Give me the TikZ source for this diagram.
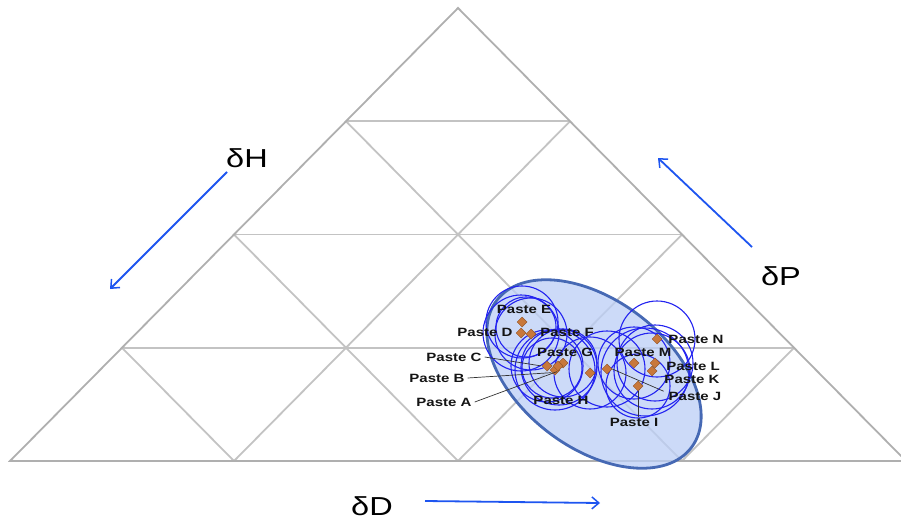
\documentclass[tikz,border=0pt]{standalone}
\usepackage{fontspec}
\setmainfont{Liberation Sans}
\newfontfamily\wfont[FakeStretch=1.25]{Liberation Sans}
\usetikzlibrary{arrows.meta,shapes.geometric}
\definecolor{gridgray}{RGB}{195,195,195}
\definecolor{ellfill}{RGB}{187,206,246}
\definecolor{elledge}{RGB}{70,105,180}
\definecolor{circblue}{RGB}{35,35,240}
\definecolor{diafill}{RGB}{200,120,60}
\definecolor{diaedge}{RGB}{150,85,40}
\definecolor{arrblue}{RGB}{30,85,240}
\definecolor{labtext}{RGB}{20,20,20}
\tikzset{
  gridline/.style={draw=gridgray, line width=1.8pt},
  outerline/.style={draw=gridgray!90!black, line width=1.8pt, line join=miter},
  ring/.style={draw=circblue, line width=1.1pt},
  dia/.style={diamond, draw=diaedge, fill=diafill, line width=0.5pt, minimum width=10pt, minimum height=10pt, inner sep=0pt},
  plabel/.style={font=\wfont\bfseries\fontsize{12}{12}\selectfont, text=labtext, inner sep=0pt},
  axlabel/.style={font=\wfont\fontsize{26}{26}\selectfont, text=black, inner sep=0pt},
  leader/.style={draw=black!80, line width=0.7pt, shorten >=1pt},
  axarrow/.style={draw=arrblue, line width=1.8pt, -{Straight Barb[length=7pt,width=12pt,line width=1.5pt]}}
}
\begin{document}
\begin{tikzpicture}[x=1pt,y=-1pt]
\useasboundingbox (0,0) rectangle (901,522);
\clip (0,0) rectangle (901,522);
% grid
\coordinate (A) at (458,8);
\coordinate (L) at (10,461);
\coordinate (R) at (906,461);
\draw[gridline] (346,121.25) -- (570,121.25);
\draw[gridline] (234,234.5) -- (682,234.5);
\draw[gridline] (122,347.75) -- (794,347.75);
\draw[gridline] (234,461) -- (570,121.25);
\draw[gridline] (458,461) -- (682,234.5);
\draw[gridline] (682,461) -- (794,347.75);
\draw[gridline] (234,461) -- (122,347.75);
\draw[gridline] (458,461) -- (234,234.5);
\draw[gridline] (682,461) -- (346,121.25);
\draw[outerline] (L) -- (A) -- (R) -- cycle;
% big ellipse
\fill[ellfill, fill opacity=0.75, rotate around={-37:(594,374)}] (594,374) ellipse [x radius=122pt, y radius=74pt];
\draw[elledge, line width=2.8pt, rotate around={-37:(594,374)}] (594,374) ellipse [x radius=122pt, y radius=74pt];
% circles
\foreach \cx/\cy/\r in {522/322/36, 521/333/38, 531/334/36, 526/327/30,
  547/366/36, 555/370/40, 563/363/34, 559/367/38, 552/368/30,
  590/373/36, 607/369/38,
  634/363/36, 655/363/38, 652/371/38, 638/386/32, 657/339/38, 645/372/44}
  \draw[ring] (\cx,\cy) circle [radius=\r pt];
% diamonds
\node[dia] (dE) at (522,322) {};
\node[dia] (dD) at (521,333) {};
\node[dia] (dF) at (531,334) {};
\node[dia] (dC) at (547,366) {};
\node[dia] (dB) at (555,370) {};
\node[dia] (dG) at (563,363) {};
\node[dia] (dA) at (558,366) {};
\node[dia] (dH) at (590,373) {};
\node[dia] (dQ) at (607,369) {};
\node[dia] (dM) at (634,363) {};
\node[dia] (dL) at (655,363) {};
\node[dia] (dK) at (652,371) {};
\node[dia] (dI) at (638,386) {};
\node[dia] (dN) at (657,339) {};
% labels
\node[plabel] (lE) at (524,309.5) {Paste E};
\node[plabel] (lD) at (485,332) {Paste D};
\node[plabel] (lF) at (567,332) {Paste F};
\node[plabel] (lG) at (565,352) {Paste G};
\node[plabel] (lC) at (454,357) {Paste C};
\node[plabel] (lB) at (437,378) {Paste B};
\node[plabel] (lA) at (444,402) {Paste A};
\node[plabel] (lH) at (561,400) {Paste H};
\node[plabel] (lI) at (634,422) {Paste I};
\node[plabel] (lN) at (696,339) {Paste N};
\node[plabel] (lM) at (643,352) {Paste M};
\node[plabel] (lL) at (693,366) {Paste L};
\node[plabel] (lK) at (692,379) {Paste K};
\node[plabel] (lJ) at (695,396) {Paste J};
% leaders
\draw[leader] ([xshift=3pt]lC.east) -- (dC.west);
\draw[leader] ([xshift=3pt]lB.east) -- (dB.south west);
\draw[leader] ([xshift=3pt]lA.east) -- (dA.south);
\draw[leader] (dI.south) -- (dI.south |- lI.north);
\draw[leader] (dQ.east) -- ([xshift=-4pt]lJ.north west);
% axis labels and arrows
\node[axlabel] (tH) at (247,158) {δH};
\node[axlabel] (tP) at (781,276) {δP};
\node[axlabel] (tD) at (372,506) {δD};
\coordinate (hS) at (227,172); \coordinate (hE) at (110,289);
\coordinate (pS) at (752,247); \coordinate (pE) at (658,158);
\coordinate (dS) at (425,501); \coordinate (dE2) at (600,503);
\draw[axarrow] (hS) -- (hE);
\draw[axarrow] (pS) -- (pE);
\draw[axarrow] (dS) -- (dE2);
\end{tikzpicture}
\end{document}
